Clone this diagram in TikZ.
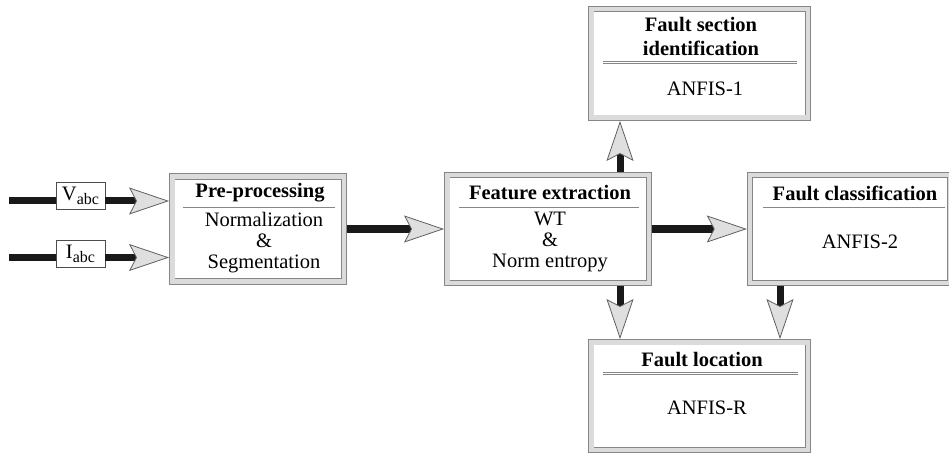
\documentclass[tikz,border=0pt]{standalone}
\usepackage{fontspec}
\setmainfont{Liberation Serif}
\usetikzlibrary{arrows.meta,positioning}

\tikzset{
  block/.style={draw=gray!95, line width=0.9pt, double=gray!28, double distance=4.5pt,
    fill=white, inner sep=0pt, outer sep=3.2pt},
  inbox/.style={draw=gray!60!black, line width=0.8pt, fill=white, inner sep=0pt,
    minimum width=49pt, minimum height=27pt, font=\fontsize{20.5}{21}\selectfont},
  sepline/.style={draw=gray!95, line width=0.8pt, double=white, double distance=1.4pt},
  txt/.style={font=\fontsize{20.5}{21}\selectfont, align=center, inner sep=0pt},
  title/.style={font=\fontsize{20.5}{24}\selectfont\bfseries, align=center, inner sep=0pt},
  wire/.style={line width=7pt, black!90},
  flow/.style={wire, -{Stealth[length=40pt, width=27pt, inset=7pt, fill=gray!25,
    color=gray!75!black, line width=0.8pt]}},
}

\begin{document}
\begin{tikzpicture}[x=1pt, y=-1pt]
    \useasboundingbox (0,0) rectangle (949,454);
    \clip (0,0) rectangle (949,454);
    % blocks
    \node[block, minimum width=171.5pt, minimum height=105pt] (pre) at (258,229) {};
    \node[block, minimum width=201.5pt, minimum height=107.5pt] (feat) at (548,229) {};
    \node[block, minimum width=200pt, minimum height=107.5pt] (cls) at (850,229) {};
    \node[block, minimum width=216.5pt, minimum height=108.5pt] (sect) at (699.5,63.5) {};
    \node[block, minimum width=216.5pt, minimum height=107.5pt] (loc) at (699.5,396) {};
    % block texts
    \node[title] (pretitle) at (260,193) {Pre-processing};
    \draw[sepline] (183,209) -- (335,209);
    \node[txt] (prebody) at (264,243) {Normalization\\\&\\Segmentation};
    \node[title] (feattitle) at (550,193) {Feature extraction};
    \draw[sepline] (459,209) -- (639,209);
    \node[txt] (featbody) at (550,242) {WT\\\&\\Norm entropy};
    \node[title] (clstitle) at (855,193) {Fault classification};
    \draw[sepline] (763,209) -- (945,209);
    \node[txt] (clsbody) at (860,242) {ANFIS-2};
    \node[title] (secttitle) at (701,36) {Fault section\\identification};
    \draw[sepline] (603,62.5) -- (797,62.5);
    \node[txt] (sectbody) at (705,89) {ANFIS-1};
    \node[title] (loctitle) at (702,360) {Fault location};
    \draw[sepline] (603,373.5) -- (798,373.5);
    \node[txt] (locbody) at (707,408) {ANFIS-R};
    % inputs
    \node[inbox] (vbox) at (80.5,196) {V\raisebox{-4.5pt}{\fontsize{16}{16}\selectfont abc}};
    \node[inbox] (ibox) at (80.5,254) {I\raisebox{-4.5pt}{\fontsize{16}{16}\selectfont abc}};
    \coordinate (vin) at (9,201);
    \coordinate (iin) at (9,257.5);
    % connectors
    \draw[wire] (vin) -- (vin -| vbox.west);
    \draw[flow] (vin -| vbox.east) -- (vin -| pre.west);
    \draw[wire] (iin) -- (iin -| ibox.west);
    \draw[flow] (iin -| ibox.east) -- (iin -| pre.west);
    \draw[flow] (pre.east) -- (pre.east -| feat.west);
    \draw[flow] (feat) -- (cls);
    \draw[flow] ([xshift=72pt]feat.north) -- ([xshift=72pt]feat.north |- sect.south);
    \draw[flow] ([xshift=72pt]feat.south) -- ([xshift=72pt]feat.south |- loc.north);
    \draw[flow] ([xshift=-70pt]cls.south) -- ([xshift=-70pt]cls.south |- loc.north);
\end{tikzpicture}
\end{document}
